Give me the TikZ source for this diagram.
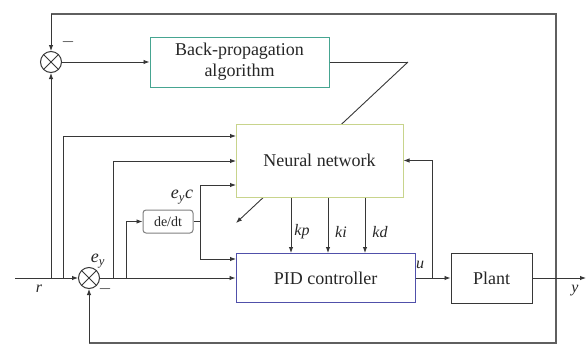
\documentclass[tikz,border=0pt]{standalone}
\usepackage{fontspec}
\setmainfont{Liberation Serif}
\usetikzlibrary{arrows.meta,calc}
\definecolor{ln}{RGB}{55,55,55}
\definecolor{bpc}{RGB}{70,165,145}
\definecolor{nnc}{RGB}{200,212,140}
\definecolor{pidc}{RGB}{80,80,170}
\tikzset{
  conn/.style={draw=ln, line width=0.9pt},
  arr/.style={conn, -{Latex[length=6pt,width=4.5pt]}},
  outer/.style={draw=ln!80, line width=1.3pt},
  blk/.style={draw, line width=1pt, fill=white, inner sep=0pt, align=center, text=black!85, font=\fontsize{18}{21}\selectfont},
  sumj/.style={circle, draw=ln, line width=1pt, minimum size=21pt, inner sep=0pt, fill=white,
    path picture={\draw[ln,line width=1pt] (path picture bounding box.north west) -- (path picture bounding box.south east)
      (path picture bounding box.north east) -- (path picture bounding box.south west);}},
  lbl/.style={font=\fontsize{16}{16}\selectfont\itshape, inner sep=1pt, text=black!85}
}
\begin{document}
\begin{tikzpicture}[x=1pt,y=-1pt]
\useasboundingbox (0,0) rectangle (587,346);
% junctions and free ends
\coordinate (rin) at (15,278);
\coordinate (yout) at (586,278);
\coordinate (ytap) at (556,278);
\coordinate (tr) at (556,14);
\coordinate (tl) at (51,14);
\coordinate (br) at (556,343);
\coordinate (bl) at (89,343);
\coordinate (j51) at (51,278);
\coordinate (j63) at (63,278);
\coordinate (j113) at (113,278);
\coordinate (j126) at (126,278);
\coordinate (j200) at (200,221.5);
\coordinate (ju) at (432,278);
\coordinate (bpend) at (408,62);
\coordinate (diagend) at (236,223);
\coordinate (nnin1) at (236,136);
\coordinate (nnin2) at (236,161);
\coordinate (nnin3) at (236,185);
\coordinate (pidin) at (236,259);
\coordinate (kpc) at (291,0);
\coordinate (kic) at (328,0);
\coordinate (kdc) at (365,0);

% blocks
\node[sumj] (s1) at (51,62) {};
\node[sumj] (s2) at (89,278) {};
\node[blk, draw=bpc, minimum width=179pt, minimum height=50pt] (bp) at (239.5,62) {Back-propagation\\algorithm};
\node[blk, draw=pidc, minimum width=179pt, minimum height=49pt] (pid) at (325.5,278) {PID controller};
\node[blk, draw=ln, minimum width=81pt, minimum height=50pt] (plant) at (491.5,278) {Plant};
\node[blk, draw=gray, rounded corners=3pt, minimum width=50pt, minimum height=23pt, font=\fontsize{14}{14}\selectfont] (dedt) at (168,221.5) {de/dt};

% adaptation path (behind the network block)
\draw[conn] (bp.east) -- (bpend);
\draw[arr] (bpend) -- (diagend);
\node[blk, draw=nnc, minimum width=167pt, minimum height=73pt] (nn) at (319.5,160.5) {Neural network};

% outer feedback loop
\draw[outer] (ytap) -- (tr) -- (tl);
\draw[arr] (tl) -- (s1.north);
\draw[outer] (ytap) -- (br) -- (bl);
\draw[arr] (bl) -- (s2.south);

% signal connectors
\draw[arr] (rin) -- (s2.west);
\draw[arr] (s2.east) -- (pid.west);
\draw[arr] (j51) -- (s1.south);
\draw[arr] (s1.east) -- (bp.west);
\draw[arr] (j63) |- (nnin1);
\draw[arr] (j113) |- (nnin2);
\draw[arr] (j126) |- (dedt.west);
\draw[conn] (dedt.east) -- (j200);
\draw[arr] (j200) |- (nnin3);
\draw[arr] (j200) |- (pidin);
\draw[arr] (pid.east) -- (plant.west);
\draw[arr] (ju) |- (nn.east);
\draw[arr] (plant.east) -- (yout);
\draw[arr] (nn.south -| kpc) -- (pid.north -| kpc);
\draw[arr] (nn.south -| kic) -- (pid.north -| kic);
\draw[arr] (nn.south -| kdc) -- (pid.north -| kdc);

% labels
\node[lbl] (lkp) at (302,232) {kp};
\node[lbl] (lki) at (341,232) {ki};
\node[lbl] (lkd) at (380,232) {kd};
\node[lbl] (lr) at (39,289) {r};
\node[lbl] (ly) at (575,291) {y};
\node[lbl] (lu) at (420,265) {u};
\node[lbl, font=\fontsize{18}{18}\selectfont\itshape] (ley) at (98,261) {e\textsubscript{y}};
\node[lbl, font=\fontsize{18}{18}\selectfont\itshape] (leyc) at (182,197) {e\textsubscript{y}c};
\node[lbl] (lm1) at (68,42) {$-$};
\node[lbl] (lm2) at (105,289) {$-$};
\end{tikzpicture}
\end{document}
